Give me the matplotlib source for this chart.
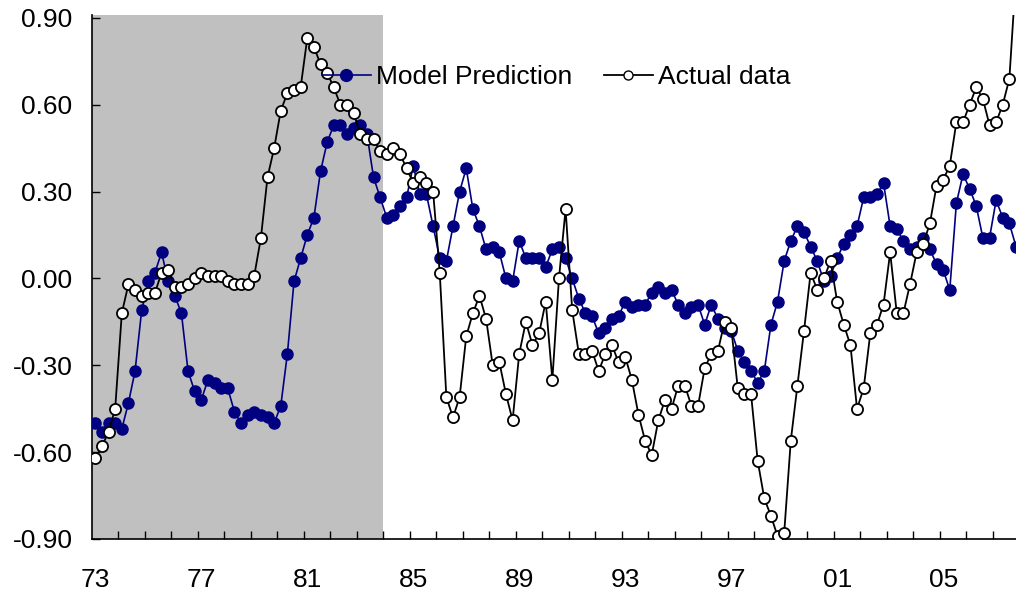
import numpy as np
import matplotlib
matplotlib.use("Agg")
import matplotlib.pyplot as plt
from matplotlib.lines import Line2D

plt.rcParams['font.family'] = ['Liberation Sans', 'DejaVu Sans']

# quarterly data, 1973Q1 .. 2007Q4
model = [-0.50, -0.53, -0.50, -0.50, -0.52, -0.43, -0.32, -0.11, -0.01, 0.02,
         0.09, -0.01, -0.06, -0.12, -0.32, -0.39, -0.42, -0.35, -0.36, -0.38,
         -0.38, -0.46, -0.50, -0.47, -0.46, -0.47, -0.48, -0.50, -0.44, -0.26,
         -0.01, 0.07, 0.15, 0.21, 0.37, 0.47, 0.53, 0.53, 0.50, 0.52,
         0.53, 0.50, 0.35, 0.28, 0.21, 0.22, 0.25, 0.28, 0.39, 0.29,
         0.29, 0.18, 0.07, 0.06, 0.18, 0.30, 0.38, 0.24, 0.18, 0.10,
         0.11, 0.09, 0.00, -0.01, 0.13, 0.07, 0.07, 0.07, 0.04, 0.10,
         0.11, 0.07, 0.00, -0.07, -0.12, -0.13, -0.19, -0.17, -0.14, -0.13,
         -0.08, -0.10, -0.09, -0.09, -0.05, -0.03, -0.05, -0.04, -0.09, -0.12,
         -0.10, -0.09, -0.16, -0.09, -0.14, -0.17, -0.18, -0.25, -0.29, -0.32,
         -0.36, -0.32, -0.16, -0.08, 0.06, 0.13, 0.18, 0.16, 0.11, 0.06,
         -0.01, 0.01, 0.07, 0.12, 0.15, 0.18, 0.28, 0.28, 0.29, 0.33,
         0.18, 0.17, 0.13, 0.10, 0.11, 0.14, 0.10, 0.05, 0.03, -0.04,
         0.26, 0.36, 0.31, 0.25, 0.14, 0.14, 0.27, 0.21, 0.19, 0.11]

actual = [-0.62, -0.58, -0.53, -0.45, -0.12, -0.02, -0.04, -0.06, -0.05, -0.05,
          0.02, 0.03, -0.03, -0.03, -0.02, 0.00, 0.02, 0.01, 0.01, 0.01,
          -0.01, -0.02, -0.02, -0.02, 0.01, 0.14, 0.35, 0.45, 0.58, 0.64,
          0.65, 0.66, 0.83, 0.80, 0.74, 0.71, 0.66, 0.60, 0.60, 0.57,
          0.50, 0.48, 0.48, 0.44, 0.43, 0.45, 0.43, 0.38, 0.33, 0.35,
          0.33, 0.30, 0.02, -0.41, -0.48, -0.41, -0.20, -0.12, -0.06, -0.14,
          -0.30, -0.29, -0.40, -0.49, -0.26, -0.15, -0.23, -0.19, -0.08, -0.35,
          0.00, 0.24, -0.11, -0.26, -0.26, -0.25, -0.32, -0.26, -0.23, -0.29,
          -0.27, -0.35, -0.47, -0.56, -0.61, -0.49, -0.42, -0.45, -0.37, -0.37,
          -0.44, -0.44, -0.31, -0.26, -0.25, -0.15, -0.17, -0.38, -0.40, -0.40,
          -0.63, -0.76, -0.82, -0.89, -0.88, -0.56, -0.37, -0.18, 0.02, -0.04,
          0.00, 0.06, -0.08, -0.16, -0.23, -0.45, -0.38, -0.19, -0.16, -0.09,
          0.09, -0.12, -0.12, -0.02, 0.09, 0.12, 0.19, 0.32, 0.34, 0.39,
          0.54, 0.54, 0.60, 0.66, 0.62, 0.53, 0.54, 0.60, 0.69, 1.05]

year_labels = ["73", "77", "81", "85", "89", "93", "97", "01", "05"]
y_ticks = [0.90, 0.60, 0.30, 0.00, -0.30, -0.60, -0.90]

x = np.arange(len(model))

fig = plt.figure(figsize=(10.16, 5.96), dpi=100)
ax = fig.add_axes([92 / 1016, 57 / 596, 924 / 1016, 524 / 596])

# shaded estimation period
ax.axvspan(-0.5, 43.5, color="#c0c0c0", lw=0, zorder=0)

ax.plot(x, model, color="#000080", lw=1.2, marker="o", markersize=8,
        markerfacecolor="#000080", markeredgecolor="#000080", zorder=3)
ax.plot(x, actual, color="black", lw=1.3, marker="o", markersize=8,
        markerfacecolor="white", markeredgecolor="black", markeredgewidth=1.3,
        zorder=4)

ax.set_xlim(-0.5, 139.0)
ax.set_ylim(-0.9, 0.91)

ax.set_yticks(y_ticks)
ax.set_yticklabels(["%.2f" % v for v in y_ticks])
ax.set_xticks(np.arange(0, 16 * len(year_labels), 16))
ax.set_xticklabels(year_labels)
ax.set_xticks(np.arange(3.5, 139, 4), minor=True)

ax.tick_params(axis="x", which="major", length=0, pad=21, labelsize=19)
ax.tick_params(axis="x", which="minor", direction="in", length=5.5, width=1)
ax.tick_params(axis="y", direction="in", length=5.5, width=1, pad=14, labelsize=19)

for s in ["top", "right"]:
    ax.spines[s].set_visible(False)
for s in ["left", "bottom"]:
    ax.spines[s].set_linewidth(1.2)

handles = [
    Line2D([], [], color="#000080", lw=1.2, marker="o", markersize=8.5,
           markerfacecolor="#000080", markeredgecolor="#000080"),
    Line2D([], [], color="black", lw=1.3, marker="o", markersize=6.5,
           markerfacecolor="white", markeredgecolor="black"),
]
leg = ax.legend(handles, ["Model Prediction", "Actual data"], ncol=2,
                loc="center left", bbox_to_anchor=(0.249, 0.882),
                frameon=False, fontsize=19, handlelength=1.85,
                handletextpad=0.2, columnspacing=1.2, borderpad=0,
                borderaxespad=0)
leg.set_zorder(5)

fig.savefig("out.png", dpi=100)
